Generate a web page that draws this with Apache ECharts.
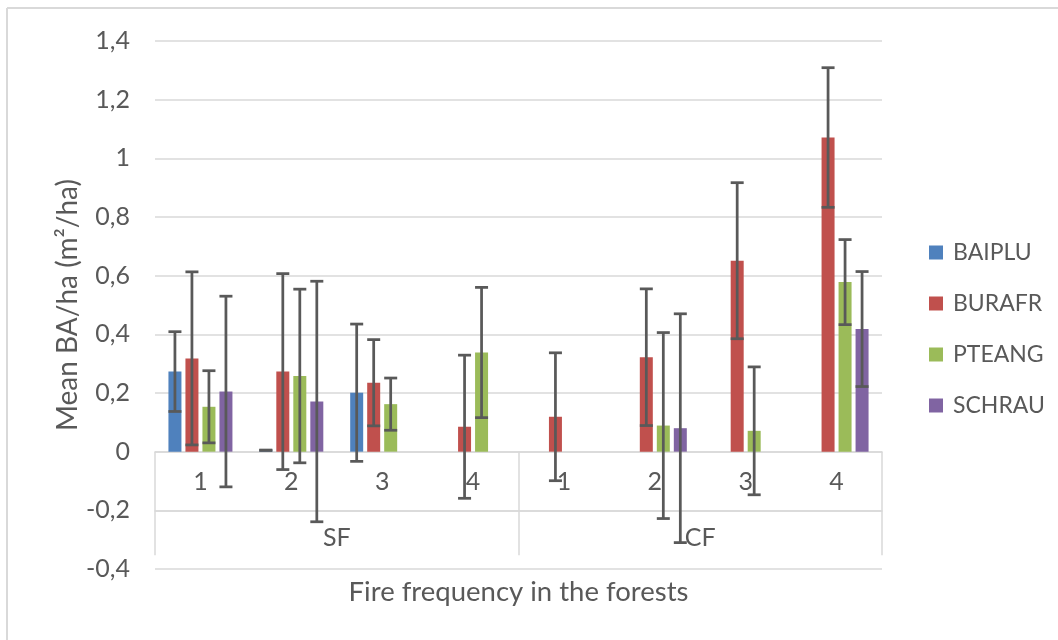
<!DOCTYPE html>
<html>
<head>
<meta charset="utf-8">
<script src="https://cdn.jsdelivr.net/npm/echarts@6/dist/echarts.min.js"></script>
<style>
html,body{margin:0;padding:0;background:#fff;}
#chart{width:1058px;height:640px;}
</style>
</head>
<body>
<div id="chart"></div>
<script>
// ---- data ----
const categories = ['1', '2', '3', '4', '1', '2', '3', '4'];
const groups = ['SF', 'CF'];
const seriesNames = ['BAIPLU', 'BURAFR', 'PTEANG', 'SCHRAU'];
const baiplu    = [0.273, 0.005, 0.201, null, null, null, null, null];
const baipluErr = [0.136, 0.000, 0.234, null, null, null, null, null];
const burafr    = [0.318, 0.273, 0.235, 0.085, 0.119, 0.322, 0.651, 1.071];
const burafrErr = [0.295, 0.334, 0.147, 0.244, 0.218, 0.233, 0.266, 0.238];
const pteang    = [0.153, 0.258, 0.162, 0.338, null, 0.089, 0.071, 0.578];
const pteangErr = [0.123, 0.296, 0.089, 0.222, null, 0.317, 0.218, 0.145];
const schrau    = [0.205, 0.171, null, null, null, 0.080, null, 0.418];
const schrauErr = [0.325, 0.410, null, null, null, 0.390, null, 0.196];
const yTicks = [-0.4, -0.2, 0, 0.2, 0.4, 0.6, 0.8, 1.0, 1.2, 1.4];
const yTitle = 'Mean BA/ha (m²/ha)';
const xTitle = 'Fire frequency in the forests';

// ---- styling / layout ----
const colors = ['#4F81BD', '#C0504D', '#9BBB59', '#8064A2'];
const textColor = '#595959';
const lineColor = '#d9d9d9';
const FONT = 'Lato, "Open Sans", sans-serif';
const W = 1058, H = 640;
const gridTop = 41, gridBottom = 71, gridLeft = 155, gridRight = 176;
const gridH = H - gridTop - gridBottom;
const yMin = yTicks[0], yMax = yTicks[yTicks.length - 1];
const zeroOffset = -gridH * (0 - yMin) / (yMax - yMin);      // move category axis up to the value 0
const boxOffset = -gridH * (0 - yMin - 0.2) / (yMax - yMin);  // second-level axis line (at -0.2)
const barW = 13, gapPx = 4;
const values = [baiplu, burafr, pteang, schrau];
const errs = [baipluErr, burafrErr, pteangErr, schrauErr];

const chart = echarts.init(document.getElementById('chart'), null, {renderer: 'canvas'});

const barSeries = seriesNames.map((n, k) => ({
  name: n, type: 'bar', xAxisIndex: 0, yAxisIndex: 0,
  data: values[k], barWidth: barW, barGap: (gapPx / barW * 100) + '%',
  itemStyle: {color: colors[k]}, z: 2
}));

function errRender(offset) {
  return function (params, api) {
    const i = api.value(0);
    const lo = api.coord([i, api.value(1)]);
    const hi = api.coord([i, api.value(2)]);
    const x = lo[0] + offset;
    const hw = barW / 2;
    const st = {stroke: '#595959', lineWidth: 2.75};
    return {type: 'group', children: [
      {type: 'line', shape: {x1: x, y1: lo[1], x2: x, y2: hi[1]}, style: st},
      {type: 'line', shape: {x1: x - hw, y1: lo[1], x2: x + hw, y2: lo[1]}, style: st},
      {type: 'line', shape: {x1: x - hw, y1: hi[1], x2: x + hw, y2: hi[1]}, style: st}
    ]};
  };
}
const errSeries = seriesNames.map((n, k) => {
  const data = [];
  values[k].forEach((v, i) => {
    if (v !== null && errs[k][i] !== null) data.push([i, v - errs[k][i], v + errs[k][i]]);
  });
  const offset = (k - (seriesNames.length - 1) / 2) * (barW + gapPx);
  return {type: 'custom', xAxisIndex: 0, yAxisIndex: 0, data: data,
    encode: {x: 0, y: [1, 2]}, renderItem: errRender(offset), z: 5, silent: true};
});

const option = {
  animation: false,
  textStyle: {fontFamily: FONT},
  grid: {left: gridLeft, right: gridRight, top: gridTop, bottom: gridBottom, containLabel: false},
  legend: {
    data: seriesNames, orient: 'vertical', left: 929, top: 241, padding: 0,
    itemWidth: 14, itemHeight: 14, itemGap: 28, icon: 'rect',
    textStyle: {color: textColor, fontSize: 23, fontFamily: FONT, lineHeight: 22, padding: [0, 0, 0, 5]}
  },
  xAxis: [
    {type: 'category', data: categories, gridIndex: 0, position: 'bottom', offset: zeroOffset,
     axisLine: {onZero: false, lineStyle: {color: lineColor, width: 1.5}},
     axisTick: {show: false},
     axisLabel: {color: textColor, fontSize: 25, fontFamily: FONT, margin: 18, interval: 0},
     splitLine: {show: false}},
    {type: 'category', data: groups, gridIndex: 0, position: 'bottom', offset: boxOffset,
     axisLine: {onZero: false, lineStyle: {color: lineColor, width: 1.5}},
     axisTick: {show: true, inside: false, length: 45, lineStyle: {color: lineColor, width: 1.5}},
     axisLabel: {color: textColor, fontSize: 25, fontFamily: FONT, margin: 15},
     name: xTitle, nameLocation: 'middle', nameGap: 68, nameMoveOverlap: false,
     nameTextStyle: {color: textColor, fontSize: 27.5, fontFamily: FONT}},
    {type: 'category', data: groups, gridIndex: 0, position: 'bottom', offset: boxOffset,
     axisLine: {show: false, onZero: false},
     axisTick: {show: true, inside: true, length: 58.7, lineStyle: {color: lineColor, width: 1.5}},
     axisLabel: {show: false}}
  ],
  yAxis: {
    type: 'value', min: yMin, max: yMax, interval: 0.2,
    axisLine: {show: false}, axisTick: {show: false},
    splitLine: {lineStyle: {color: lineColor, width: 1.5}},
    axisLabel: {color: textColor, fontSize: 25, fontFamily: FONT, margin: 25,
      formatter: v => String(Number(v.toFixed(1))).replace('.', ',')},
    name: yTitle, nameLocation: 'middle', nameGap: 73, nameRotate: 90, nameMoveOverlap: false,
    nameTextStyle: {color: textColor, fontSize: 28, fontFamily: FONT}
  },
  graphic: [
    {type: 'line', shape: {x1: 7, y1: 8, x2: W, y2: 8}, style: {stroke: lineColor, lineWidth: 2}, silent: true},
    {type: 'line', shape: {x1: 7, y1: 8, x2: 7, y2: H}, style: {stroke: lineColor, lineWidth: 2}, silent: true}
  ],
  series: barSeries.concat(errSeries)
};
chart.setOption(option);
</script>
</body>
</html>
